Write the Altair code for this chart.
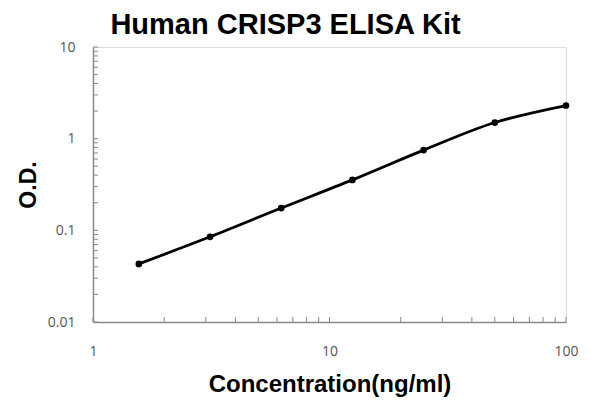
import altair as alt
import pandas as pd

conc = [1.5625, 3.125, 6.25, 12.5, 25, 50, 100]
od = [0.043, 0.085, 0.175, 0.355, 0.75, 1.5, 2.3]

x_ticks = [1, 2, 3, 4, 5, 6, 7, 8, 9, 10, 20, 30, 40, 50, 60, 70, 80, 90, 100]
y_ticks = [0.01, 0.02, 0.03, 0.04, 0.05, 0.06, 0.07, 0.08, 0.09,
           0.1, 0.2, 0.3, 0.4, 0.5, 0.6, 0.7, 0.8, 0.9,
           1, 2, 3, 4, 5, 6, 7, 8, 9, 10]
x_labels = [1, 10, 100]
y_labels = [0.01, 0.1, 1, 10]

W, H = 473, 275

df = pd.DataFrame({"conc": conc, "od": od})
xt = pd.DataFrame({"v": x_ticks})
yt = pd.DataFrame({"v": y_ticks})

xscale = alt.Scale(type="log", domain=[1, 100])
yscale = alt.Scale(type="log", domain=[0.01, 10])

label_font = "Open Sans"
title_font = "Liberation Sans"

x_axis = alt.Axis(values=x_labels, format="~g", ticks=False, tickSize=0, grid=False,
                  labelFlush=False,
                  labelPadding=22, labelFontSize=14, labelColor="#555555", labelFont=label_font,
                  domainColor="#8a8a8a", domainWidth=1.5,
                  title="Concentration(ng/ml)", titleFont=title_font, titleFontSize=24,
                  titleFontWeight="bold", titleColor="#000000", titlePadding=14)
y_axis = alt.Axis(values=y_labels, format="~g", ticks=False, tickSize=0, grid=False,
                  labelFlush=False,
                  labelPadding=18, labelFontSize=14, labelColor="#555555", labelFont=label_font,
                  domainColor="#8a8a8a", domainWidth=1.5,
                  title="O.D.", titleFont=title_font, titleFontSize=23,
                  titleFontWeight="bold", titleColor="#000000", titlePadding=7)

line = alt.Chart(df).mark_line(color="black", strokeWidth=2.8, interpolate="catmull-rom").encode(
    x=alt.X("conc:Q", scale=xscale, axis=x_axis),
    y=alt.Y("od:Q", scale=yscale, axis=y_axis),
)
pts = alt.Chart(df).mark_point(filled=True, color="black", size=45, opacity=1).encode(
    x=alt.X("conc:Q", scale=xscale, axis=x_axis),
    y=alt.Y("od:Q", scale=yscale, axis=y_axis),
)
xtick = alt.Chart(xt).mark_rule(color="#8a8a8a", strokeWidth=1).encode(
    x=alt.X("v:Q", scale=xscale, axis=x_axis),
    y=alt.value(H),
    y2=alt.value(H - 5),
)
ytick = alt.Chart(yt).mark_rule(color="#8a8a8a", strokeWidth=1).encode(
    y=alt.Y("v:Q", scale=yscale, axis=y_axis),
    x=alt.value(0),
    x2=alt.value(5),
)

chart = alt.layer(line, xtick, ytick, pts).properties(
    width=W, height=H,
    title=alt.TitleParams("Human CRISP3 ELISA Kit", font=title_font, fontSize=29,
                          fontWeight="bold", color="#000000", anchor="middle",
                          dx=-44, offset=0),
    autosize=alt.AutoSizeParams(type="none"),
    padding={"left": 85, "top": 39, "right": 26, "bottom": 84},
).configure_view(stroke=None).configure(background="white")

chart.save("out.html", embed_options={"renderer": "svg", "actions": False})
